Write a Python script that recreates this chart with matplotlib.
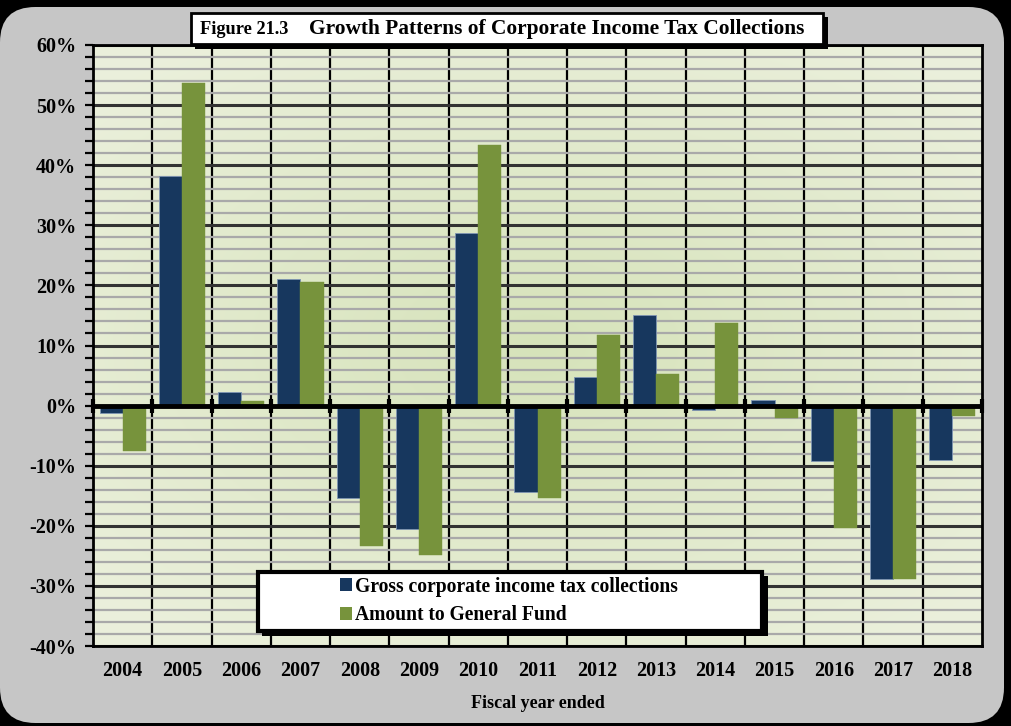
import numpy as np
from matplotlib import pyplot as plt
from matplotlib.patches import Rectangle, FancyBboxPatch, Patch
from matplotlib.ticker import MultipleLocator, FuncFormatter

plt.rcParams.update({
    "font.family": "Liberation Serif",
    "font.weight": "bold",
    "axes.labelweight": "bold",
})

W, H = 1011, 726

years = ["2004", "2005", "2006", "2007", "2008", "2009", "2010", "2011",
         "2012", "2013", "2014", "2015", "2016", "2017", "2018"]
gross = [-1.3, 38.2, 2.2, 21.0, -15.3, -20.5, 28.8, -14.3,
         4.8, 15.0, -0.8, 0.9, -9.3, -28.8, -9.0]
general_fund = [-7.5, 53.7, 0.8, 20.5, -23.3, -24.8, 43.3, -15.3,
                11.7, 5.2, 13.8, -2.0, -20.3, -28.8, -1.8]

BLUE = "#17375e"
GREEN = "#77933c"


def fx(x):
    return x / W


def fy(y):
    return 1 - y / H


fig = plt.figure(figsize=(W / 100, H / 100), dpi=100)
fig.patch.set_facecolor("black")

# rounded gray panel
panel = FancyBboxPatch((fx(0), fy(723)), fx(1004), fy(7) - fy(723),
                       boxstyle="round,pad=0,rounding_size=0.035",
                       transform=fig.transFigure, facecolor="#c6c6c6",
                       edgecolor="none", zorder=0, mutation_aspect=W / H)
fig.patches.append(panel)

ax = fig.add_axes([fx(93), fy(646), fx(982) - fx(93), fy(45) - fy(646)])
ax.set_zorder(1)

# radial background inside the plot area
gx, gy = np.meshgrid(np.linspace(-1, 1, 300), np.linspace(-1, 1, 300))
r = np.clip(np.sqrt(gx ** 2 + (gy * 1.1) ** 2) / 1.35, 0, 1)
c_in = np.array([0.84, 0.89, 0.73])
c_out = np.array([0.92, 0.94, 0.86])
img = c_in[None, None, :] * (1 - r[..., None]) + c_out[None, None, :] * r[..., None]
ax.imshow(img, extent=[0, 1, 0, 1], transform=ax.transAxes, aspect="auto",
          zorder=0, interpolation="bilinear")

x = np.arange(len(years))
bw = 0.39
ax.bar(x - bw / 2, gross, bw, color=BLUE, edgecolor="#7f95b3",
       linewidth=0.6, zorder=2, label="Gross corporate income tax collections")
ax.bar(x + bw / 2, general_fund, bw, color=GREEN, edgecolor=GREEN,
       linewidth=0.3, zorder=2, label="Amount to General Fund")

ax.set_xlim(-0.5, len(years) - 0.5)
ax.set_ylim(-40, 60)

# grid lines
ax.yaxis.set_major_locator(MultipleLocator(10))
ax.yaxis.set_minor_locator(MultipleLocator(2))
ax.grid(which="minor", axis="y", color="#a9a9a9", linewidth=1.6, zorder=0.5)
ax.grid(which="major", axis="y", color="#333333", linewidth=2.2, zorder=0.6)
for b in np.arange(len(years) - 1) + 0.5:
    ax.axvline(b, color="black", linewidth=1.6, zorder=1)
ax.axhline(0, color="black", linewidth=3.5, zorder=3)
bounds = np.arange(len(years) + 1) - 0.5
ax.plot(bounds, np.zeros_like(bounds), ls="none", marker="|", ms=10,
        mew=3, color="black", zorder=4, clip_on=False)

ax.yaxis.set_major_formatter(FuncFormatter(lambda v, p: f"{v:.0f}%"))
ax.tick_params(axis="y", which="both", direction="out", length=6, width=1.6,
               color="black", labelsize=14.5, pad=6)
ax.tick_params(axis="y", which="minor", labelleft=False)
ax.set_xticks(x)
ax.set_xticklabels(years, fontsize=14.5)
ax.tick_params(axis="x", length=0, pad=11)
for s in ax.spines.values():
    s.set_color("black")
    s.set_linewidth(2)
ax.set_xlabel("Fiscal year ended", fontsize=13, labelpad=10)

# title box with shadow
fig.patches.append(Rectangle((fx(195), fy(49)), fx(828) - fx(195), fy(17) - fy(49),
                             transform=fig.transFigure, facecolor="black",
                             edgecolor="none", zorder=3))
fig.patches.append(Rectangle((fx(191), fy(44)), fx(823) - fx(191), fy(13) - fy(44),
                             transform=fig.transFigure, facecolor="white",
                             edgecolor="black", linewidth=2, zorder=4))
fig.text(fx(200), fy(30), "Figure 21.3", fontsize=13.2, va="center", ha="left", zorder=5)
fig.text(fx(309), fy(29), "Growth Patterns of Corporate Income Tax Collections",
         fontsize=15.4, va="center", ha="left", zorder=5)

# legend box with shadow
fig.patches.append(Rectangle((fx(262), fy(636)), fx(768) - fx(262), fy(576) - fy(636),
                             transform=fig.transFigure, facecolor="black",
                             edgecolor="none", zorder=3))
fig.patches.append(Rectangle((fx(258), fy(631)), fx(762) - fx(258), fy(572) - fy(631),
                             transform=fig.transFigure, facecolor="white",
                             edgecolor="black", linewidth=3, zorder=4))
handles = [Patch(facecolor=BLUE), Patch(facecolor=GREEN)]
labels = ["Gross corporate income tax collections", "Amount to General Fund"]
leg = fig.legend(handles, labels, loc="center left",
                 bbox_to_anchor=(fx(330), fy(601)), frameon=False,
                 fontsize=14.1, handlelength=0.6, handleheight=0.6,
                 handletextpad=0.2, labelspacing=0.45, borderpad=0)
leg.set_zorder(6)

fig.savefig("out.png", dpi=100, facecolor=fig.get_facecolor())
